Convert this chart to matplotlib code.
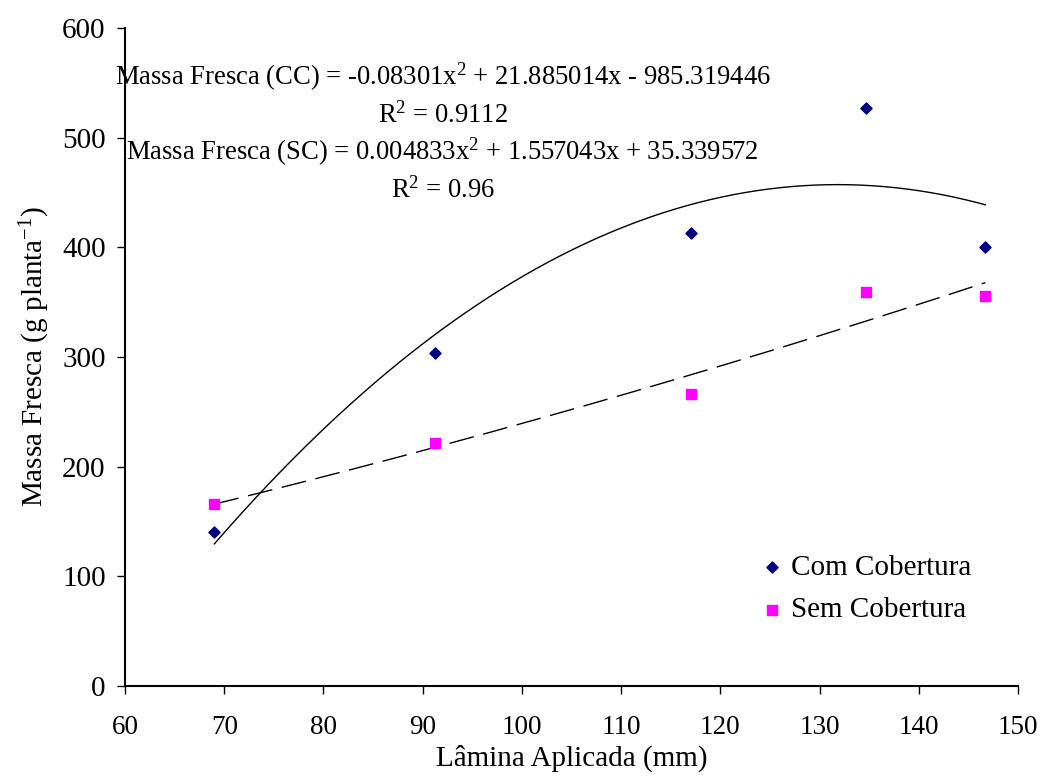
import numpy as np
import matplotlib.pyplot as plt

plt.rcParams['font.family'] = ['Liberation Serif', 'DejaVu Serif']
plt.rcParams['mathtext.fontset'] = 'custom'
plt.rcParams['mathtext.rm'] = 'Liberation Serif'
plt.rcParams['mathtext.it'] = 'Liberation Serif:italic'
plt.rcParams['mathtext.default'] = 'regular'

lamina = [69, 91.2, 117, 134.7, 146.7]
cc = [140, 304, 413, 527, 400]
sc = [166, 222, 266, 359, 356]

coef_cc = [-0.08301, 21.885014, -985.319446]
coef_sc = [0.004833, 1.557043, 35.339572]

fig = plt.figure(figsize=(10.42, 7.76), dpi=100)
ax = fig.add_axes([0.12, 0.116, 0.857, 0.848])

xs = np.linspace(min(lamina), max(lamina), 200)
ax.plot(xs, np.polyval(coef_cc, xs), color='black', lw=1)
ax.plot(xs, np.polyval(coef_sc, xs), color='black', lw=1, dashes=(18, 7))

ax.scatter(lamina, cc, marker='D', s=32, color='#000080', label='Com Cobertura', zorder=3)
ax.scatter(lamina, sc, marker='s', s=44, color='#FF00FF', label='Sem Cobertura', zorder=3)

ax.set_xlim(60, 150)
ax.set_ylim(0, 600)
ax.set_xticks(range(60, 151, 10))
ax.set_yticks(range(0, 601, 100))
ax.spines['top'].set_visible(False)
ax.spines['right'].set_visible(False)
ax.spines['left'].set_linewidth(1.5)
ax.spines['bottom'].set_linewidth(1.5)
ax.tick_params(direction='out', length=6, width=1)
ax.tick_params(axis='y', pad=8, labelsize=21)
ax.tick_params(axis='x', pad=15, labelsize=19.5)

ax.set_xlabel('Lâmina Aplicada (mm)', fontsize=21, labelpad=3)
ax.set_ylabel('Massa Fresca (g planta$^{-1}$)', fontsize=21, labelpad=7)

eq_fs = 19.2
eq_x = 92
ax.text(eq_x, 555, 'Massa Fresca (CC) = -0.08301x$^2$ + 21.885014x - 985.319446',
        fontsize=eq_fs, ha='center', va='center')
ax.text(eq_x, 520.5, 'R$^2$ = 0.9112', fontsize=eq_fs, ha='center', va='center')
ax.text(eq_x, 487, 'Massa Fresca (SC) = 0.004833x$^2$ + 1.557043x + 35.339572',
        fontsize=eq_fs, ha='center', va='center')
ax.text(eq_x, 452, 'R$^2$ = 0.96', fontsize=eq_fs, ha='center', va='center')

ax.legend(loc='upper left', bbox_to_anchor=(0.708, 0.2), frameon=False,
          fontsize=21, handletextpad=0.15, labelspacing=0.55, borderpad=0,
          borderaxespad=0, handlelength=1.0)

fig.savefig('out.png', dpi=100)
